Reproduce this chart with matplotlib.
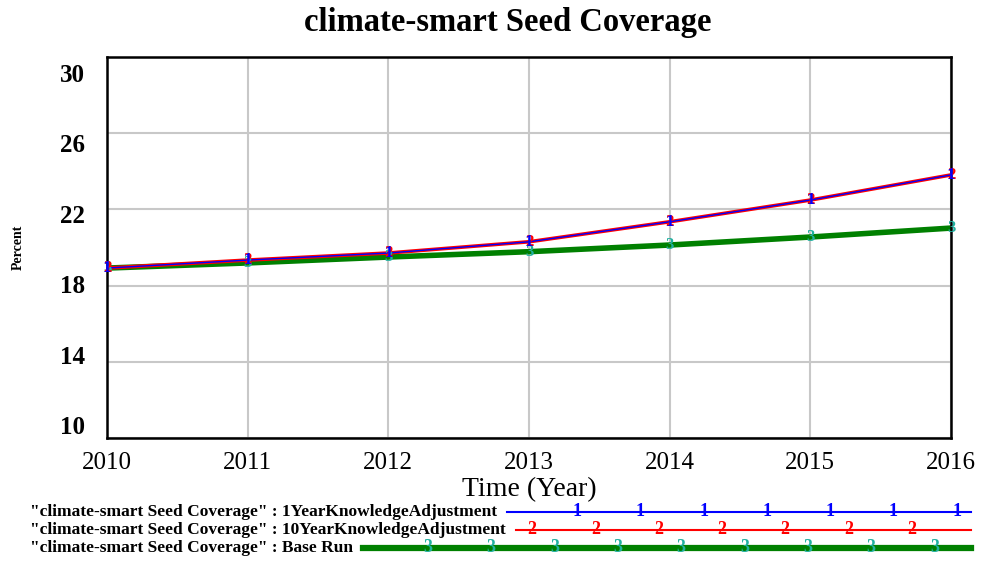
import matplotlib
matplotlib.use("Agg")
import matplotlib.pyplot as plt
from matplotlib.transforms import ScaledTranslation
import numpy as np

years = [2010, 2011, 2012, 2013, 2014, 2015, 2016]
one_year_adj = [18.92, 19.34, 19.71, 20.30, 21.35, 22.49, 23.81]
ten_year_adj = [18.92, 19.34, 19.71, 20.30, 21.35, 22.49, 23.81]
base_run = [18.92, 19.19, 19.50, 19.78, 20.13, 20.55, 21.02]

y_ticks = [10, 14, 18, 22, 26, 30]
legend_labels = ['"climate-smart Seed Coverage" : 1YearKnowledgeAdjustment',
                 '"climate-smart Seed Coverage" : 10YearKnowledgeAdjustment',
                 '"climate-smart Seed Coverage" : Base Run']

plt.rcParams['font.family'] = ['Liberation Serif', 'DejaVu Serif']

fig = plt.figure(figsize=(9.84, 5.61), dpi=100)
ax = fig.add_axes([107/984, 1-438/561, (951-107)/984, (438-57)/561])

# series: red under blue gives the purple look
ax.plot(years, ten_year_adj, color='red', lw=2.6, zorder=3)
ax.plot(years, one_year_adj, color='blue', lw=1.0, zorder=4)
ax.plot(years, base_run, color='green', lw=4.0, zorder=2)

mark_green = '#20b0a0'
for x, y in zip(years, base_run):
    ax.text(x, y, '3', color=mark_green, fontsize=12, fontweight='bold',
            ha='center', va='center', zorder=5)
for x, y in zip(years, ten_year_adj):
    ax.text(x, y, '2', color='red', fontsize=12, fontweight='bold',
            ha='center', va='center', zorder=5)
for x, y in zip(years, one_year_adj):
    ax.text(x, y, '1', color='blue', fontsize=12, fontweight='bold',
            ha='center', va='center', zorder=6)

ax.set_xlim(2010, 2016)
ax.set_ylim(10, 30)
ax.set_xticks(years)
ax.set_yticks(y_ticks)
ax.set_xticklabels([str(y) for y in years], fontsize=18)
ax.set_yticklabels([str(t) for t in y_ticks], fontsize=18, fontweight='bold')
ax.tick_params(length=0, pad=10)
ax.tick_params(axis='y', pad=16)
# the value labels sit a bit compressed relative to the gridlines
for lbl, v in zip(ax.get_yticklabels(), y_ticks):
    dy = -(16 - (30 - v) * 1.45) / 100
    lbl.set_transform(lbl.get_transform() + ScaledTranslation(0, dy, fig.dpi_scale_trans))
ax.grid(color='#c8c8c8', lw=1.5)
ax.set_axisbelow(True)
for s in ax.spines.values():
    s.set_linewidth(1.8)

fig.text(508/984, 1-23/561, 'climate-smart Seed Coverage', fontsize=23.5,
         fontweight='bold', ha='center', va='center')
ax.set_xlabel('Time (Year)', fontsize=20, labelpad=2)
ax.set_ylabel('Percent', fontsize=10, fontweight='bold')
ax.yaxis.set_label_coords(-0.097, 0.5)

# legend rows drawn below the axes
colors = ['blue', 'red', 'green']
widths = [1.5, 1.5, 4.5]
marks = ['1', '2', '3']
rows_y = [512, 530, 548]
first_mark = [577, 532, 428]
lax = fig.add_axes([0, 0, 1, 1])
lax.set_xlim(0, 984)
lax.set_ylim(561, 0)
lax.axis('off')
fig.canvas.draw()
renderer = fig.canvas.get_renderer()
for lab, c, w, m, ry, fm in zip(legend_labels, colors, widths, marks, rows_y, first_mark):
    t = lax.text(30, ry, lab, fontsize=12.5, fontweight='bold', va='center', ha='left')
    bb = t.get_window_extent(renderer)
    x0 = bb.x1 + 10
    lax.plot([x0, 971], [ry, ry], color=c, lw=w)
    mcol = mark_green if m == '3' else c
    for mx in np.arange(fm, 965, 63.3):
        lax.text(mx, ry, m, color=mcol, fontsize=13, fontweight='bold',
                 ha='center', va='center')

fig.savefig('out.png', dpi=100)
